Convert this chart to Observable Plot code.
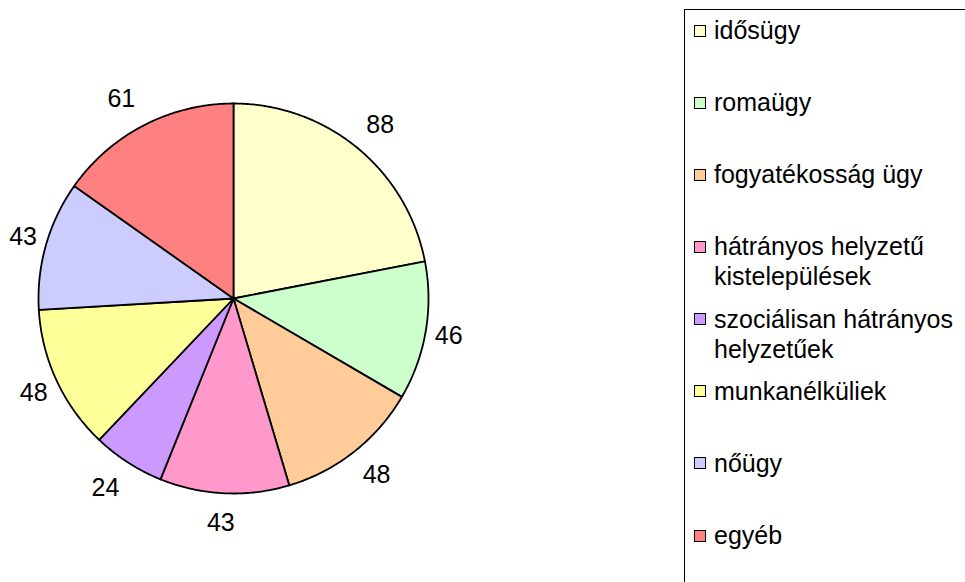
<!DOCTYPE html>
<html><head><meta charset="utf-8">
<script src="https://cdn.jsdelivr.net/npm/d3@7"></script>
<script src="https://cdn.jsdelivr.net/npm/@observablehq/plot@0.6"></script>
<style>
html,body{margin:0;padding:0;background:#fff;overflow:hidden;}
#wrap{position:relative;width:965px;height:582px;overflow:hidden;font-family:"Liberation Sans",Arial,sans-serif;}
#chart{position:absolute;left:0;top:0;}
#legend{position:absolute;left:684px;top:9px;width:330px;height:640px;border:1px solid #000;box-sizing:border-box;background:#fff;}
.item{position:absolute;left:9px;display:flex;align-items:flex-start;font-size:25px;line-height:30px;color:#000;}
.sw{width:10px;height:10px;border:1.4px solid #000;margin-right:8px;margin-top:9.5px;flex:none;}
.lab{width:252px;}
</style></head><body><div id="wrap"><div id="chart"></div><div id="legend"></div></div>
<script>
const categories = ["idősügy","romaügy","fogyatékosság ügy","hátrányos helyzetű kistelepülések","szociálisan hátrányos helyzetűek","munkanélküliek","nőügy","egyéb"];
const values = [88, 46, 48, 43, 24, 48, 43, 61];
const colors = ["#FFFFCC","#CCFFCC","#FFCC99","#FF99CC","#CC99FF","#FFFF99","#CCCCFF","#FF8080"];

const W = 965, H = 582, CX = 233, CY = 298, R = 195;
const arcs = d3.pie().sort(null).value(d => d)(values);

const pts = [];
arcs.forEach((a, i) => {
  const cat = categories[i];
  pts.push({cat, x: 0, y: 0});
  const n = Math.max(4, Math.ceil((a.endAngle - a.startAngle) / 0.01));
  for (let k = 0; k <= n; k++) {
    const t = a.startAngle + (a.endAngle - a.startAngle) * k / n;
    pts.push({cat, x: R * Math.sin(t), y: R * Math.cos(t)});
  }
});

const clamp = v => Math.max(-1, Math.min(1, v));
const labels = arcs.map((a, i) => {
  const m = (a.startAngle + a.endAngle) / 2;
  const s = Math.sin(m), c = Math.cos(m);
  return {text: String(values[i]), x: 196 * s + 22 * clamp(s / 0.3), y: 225 * c};
});

const chart = Plot.plot({
  width: W, height: H, margin: 0,
  style: {fontFamily: "'Liberation Sans', Arial, sans-serif", background: "transparent"},
  x: {domain: [-CX, W - CX], axis: null},
  y: {domain: [-(H - CY), CY], axis: null},
  color: {domain: categories, range: colors},
  marks: [
    Plot.line(pts, {x: "x", y: "y", z: "cat", fill: "cat", stroke: "#000", strokeWidth: 1.8, curve: "linear-closed"}),
    Plot.text(labels, {x: "x", y: "y", text: "text", fontSize: 25, fill: "#000"})
  ]
});
document.getElementById("chart").appendChild(chart);

const legend = document.getElementById("legend");
categories.forEach((cat, i) => {
  const baseline = 38 + 72.15 * i;
  const item = document.createElement("div");
  item.className = "item";
  item.style.top = (baseline - 23 - 10) + "px";
  const sw = document.createElement("div");
  sw.className = "sw";
  sw.style.background = colors[i];
  const lab = document.createElement("div");
  lab.className = "lab";
  lab.textContent = cat;
  item.appendChild(sw); item.appendChild(lab);
  legend.appendChild(item);
});
</script></body></html>
